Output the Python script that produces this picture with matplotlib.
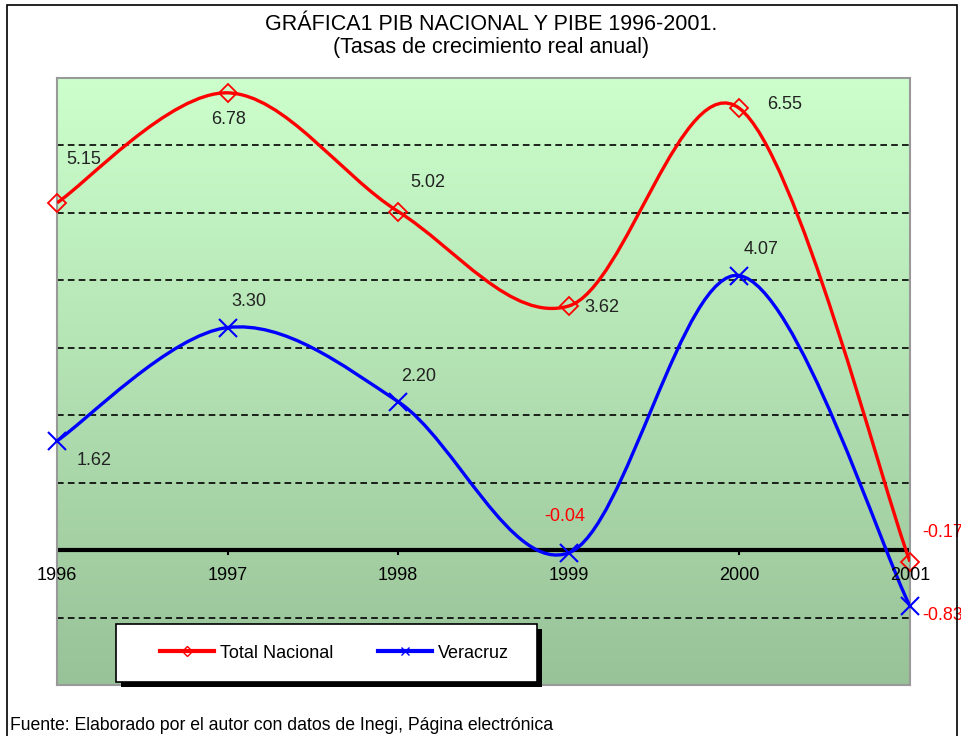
import numpy as np
import matplotlib
matplotlib.use('Agg')
import matplotlib.pyplot as plt
from matplotlib.path import Path
from matplotlib.patches import PathPatch, Rectangle
from matplotlib.lines import Line2D

matplotlib.rcParams['font.family'] = ['Liberation Sans', 'DejaVu Sans']

years = ['1996', '1997', '1998', '1999', '2000', '2001']
nacional = [5.15, 6.78, 5.02, 3.62, 6.55, -0.17]
veracruz = [1.62, 3.30, 2.20, -0.04, 4.07, -0.83]

# label offsets in points (dx, dy), text is left aligned
off_nac = [(7, 31), (-12, -19), (9, 21), (11, -1), (20, 3), (9, 21)]
off_ver = [(14, -14), (3, 19), (2, 18), (-18, 26), (3, 19), (9, -7)]


def smooth_path(xs, ys):
    # excel-like smoothed line as cubic bezier segments
    n = len(xs)
    verts = [(xs[0], ys[0])]
    codes = [Path.MOVETO]
    for i in range(n - 1):
        x0, y0 = (xs[i - 1], ys[i - 1]) if i > 0 else (xs[i], ys[i])
        x1, y1 = xs[i], ys[i]
        x2, y2 = xs[i + 1], ys[i + 1]
        x3, y3 = (xs[i + 2], ys[i + 2]) if i + 2 < n else (x2, y2)
        c1 = (x1 + (x2 - x0) / 6.0, y1 + (y2 - y0) / 6.0)
        c2 = (x2 - (x3 - x1) / 6.0, y2 - (y3 - y1) / 6.0)
        verts += [c1, c2, (x2, y2)]
        codes += [Path.CURVE4] * 3
    return Path(verts, codes)


fig = plt.figure(figsize=(9.62, 7.36), dpi=100)
ax = fig.add_axes([57 / 962, 1 - 685 / 736, (910 - 57) / 962, (685 - 78) / 736])

x = np.arange(len(years))
ax.set_xlim(0, 5)
ax.set_ylim(-2, 7)

# gradient background
grad = np.linspace(0, 1, 256).reshape(-1, 1)
top = np.array([204, 255, 204]) / 255.0
bot = np.array([152, 194, 152]) / 255.0
img = top[None, None, :] * (1 - grad[:, :, None]) + bot[None, None, :] * grad[:, :, None]
ax.imshow(img, extent=[0, 5, -2, 7], aspect='auto', zorder=0)

for yv in [-1, 1, 2, 3, 4, 5, 6, 7]:
    ax.axhline(yv, color='black', lw=1.2, ls=(0, (4, 2.5)), zorder=1)
ax.axhline(0, color='black', lw=3, zorder=2)
for xi in x:
    ax.plot([xi, xi], [0, -0.06], color='black', lw=1.5, zorder=2)

ax.add_patch(PathPatch(smooth_path(x, nacional), fill=False, color='#ff0000', lw=2.4, zorder=3))
ax.add_patch(PathPatch(smooth_path(x, veracruz), fill=False, color='#0000ff', lw=2.4, zorder=3))
ax.plot(x, nacional, ls='', marker='D', ms=9, mfc='none', mec='#ff0000', mew=1.3, zorder=4, clip_on=False)
ax.plot(x, veracruz, ls='', marker='x', ms=13, mec='#0000ff', mew=1.5, zorder=4, clip_on=False)

for i in range(len(years)):
    ax.text(i, -0.37, years[i], ha='center', va='center', fontsize=13, zorder=5)
    c = 'red' if nacional[i] < 0 else '#222222'
    ax.annotate('%.2f' % nacional[i], (i, nacional[i]), xytext=off_nac[i], textcoords='offset points',
                fontsize=13, color=c, ha='left', va='center', annotation_clip=False)
    c = 'red' if veracruz[i] < 0 else '#222222'
    ax.annotate('%.2f' % veracruz[i], (i, veracruz[i]), xytext=off_ver[i], textcoords='offset points',
                fontsize=13, color=c, ha='left', va='center', annotation_clip=False)

ax.set_xticks([])
ax.set_yticks([])
for s in ax.spines.values():
    s.set_color('#999999')
    s.set_linewidth(1.5)

# legend box with shadow
lx0, ly0, lw_, lh_ = 116 / 962, 1 - 682 / 736, (537 - 116) / 962, (682 - 624) / 736
fig.patches.append(Rectangle((lx0 + 5 / 962, ly0 - 5 / 736), lw_, lh_, transform=fig.transFigure,
                             facecolor='black', edgecolor='none', zorder=5))
fig.patches.append(Rectangle((lx0, ly0), lw_, lh_, transform=fig.transFigure,
                             facecolor='white', edgecolor='black', lw=1.2, zorder=6))
handles = [Line2D([], [], color='#ff0000', lw=3, marker='D', ms=5, mfc='none', mec='#ff0000'),
           Line2D([], [], color='#0000ff', lw=3, marker='x', ms=6, mec='#0000ff')]
leg = fig.legend(handles, ['Total Nacional', 'Veracruz'], loc='center',
                 bbox_to_anchor=(lx0 + lw_ / 2 + 8 / 962, ly0 + lh_ / 2), ncol=2, frameon=False,
                 fontsize=13, handlelength=3.0, columnspacing=2.5, handletextpad=0.3)
leg.set_zorder(7)

fig.text(491 / 962, 1 - 24 / 736, 'GRÁFICA1 PIB NACIONAL Y PIBE 1996-2001.', ha='center', va='center', fontsize=15.5)
fig.text(491 / 962, 1 - 48 / 736, '(Tasas de crecimiento real anual)', ha='center', va='center', fontsize=15.5)
fig.text(10 / 962, 1 - 726 / 736, 'Fuente: Elaborado por el autor con datos de Inegi, Página electrónica',
         ha='left', va='center', fontsize=12.7)

fig.patches.append(Rectangle((7 / 962, -0.01), (957 - 7) / 962, 1 - 5 / 736 + 0.01, transform=fig.transFigure,
                             facecolor='none', edgecolor='black', lw=1.2, zorder=1))

fig.savefig('out.png', dpi=100)
